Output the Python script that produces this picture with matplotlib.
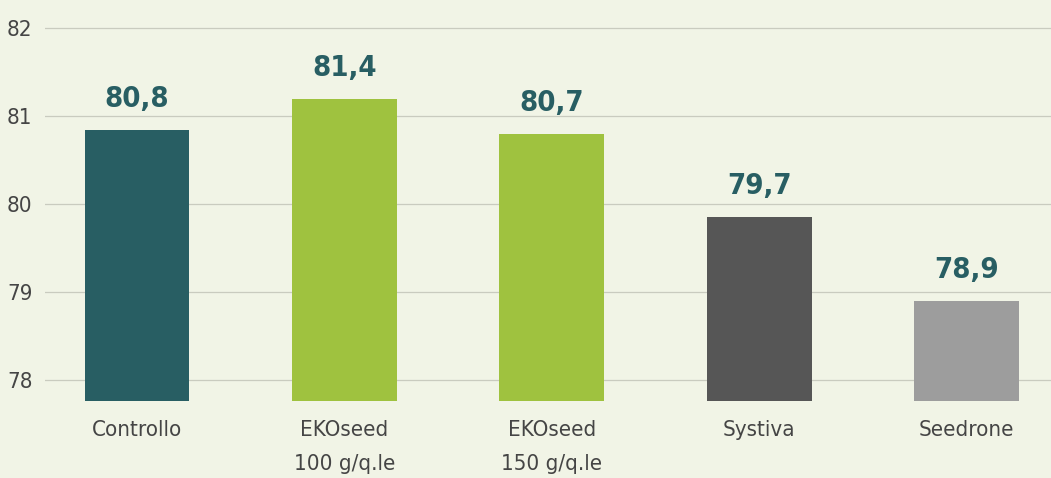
import matplotlib
matplotlib.use("Agg")
import matplotlib.pyplot as plt

categories = ["Controllo", "EKOseed\n100 g/q.le", "EKOseed\n150 g/q.le", "Systiva", "Seedrone"]
values = [80.84, 81.19, 80.80, 79.85, 78.90]
value_labels = ["80,8", "81,4", "80,7", "79,7", "78,9"]
yticks = [78, 79, 80, 81, 82]
bar_colors = ["#285e63", "#9fc23f", "#9fc23f", "#565656", "#9d9d9d"]

BG = "#f1f4e6"
FAM = ["DejaVu Sans"]

fig = plt.figure(figsize=(10.51, 4.78), dpi=100, facecolor=BG)
ax = fig.add_axes([45 / 1051, 77 / 478, 1 - 45 / 1051, 391 / 478])
ax.set_facecolor(BG)

x = list(range(len(categories)))
ax.bar(x, values, width=0.505, color=bar_colors, bottom=0, zorder=2)

ax.set_ylim(77.76, 82.205)
ax.set_xlim(-0.4436, 4.407)
ax.set_yticks(yticks)
ax.set_yticklabels([str(t) for t in yticks], family=FAM, stretch="condensed",
                   fontsize=16, color="#454545")
ax.set_xticks(x)
ax.set_xticklabels(categories, family=FAM, stretch="condensed", fontsize=16,
                   color="#454545", linespacing=1.85)
ax.tick_params(axis="y", length=0, pad=9)
ax.tick_params(axis="x", length=0, pad=14)

ax.set_axisbelow(True)
ax.yaxis.grid(True, color="#c9cbbf", linewidth=0.9)
ax.xaxis.grid(False)
for s in ax.spines.values():
    s.set_visible(False)

for xi, v, lab in zip(x, values, value_labels):
    ax.annotate(lab, (xi, v), xytext=(0, 16.5), textcoords="offset points",
                ha="center", va="baseline", family=FAM, stretch="condensed",
                fontweight="bold", fontsize=21, color="#285e63")

fig.savefig("out.png", dpi=100, facecolor=BG)
